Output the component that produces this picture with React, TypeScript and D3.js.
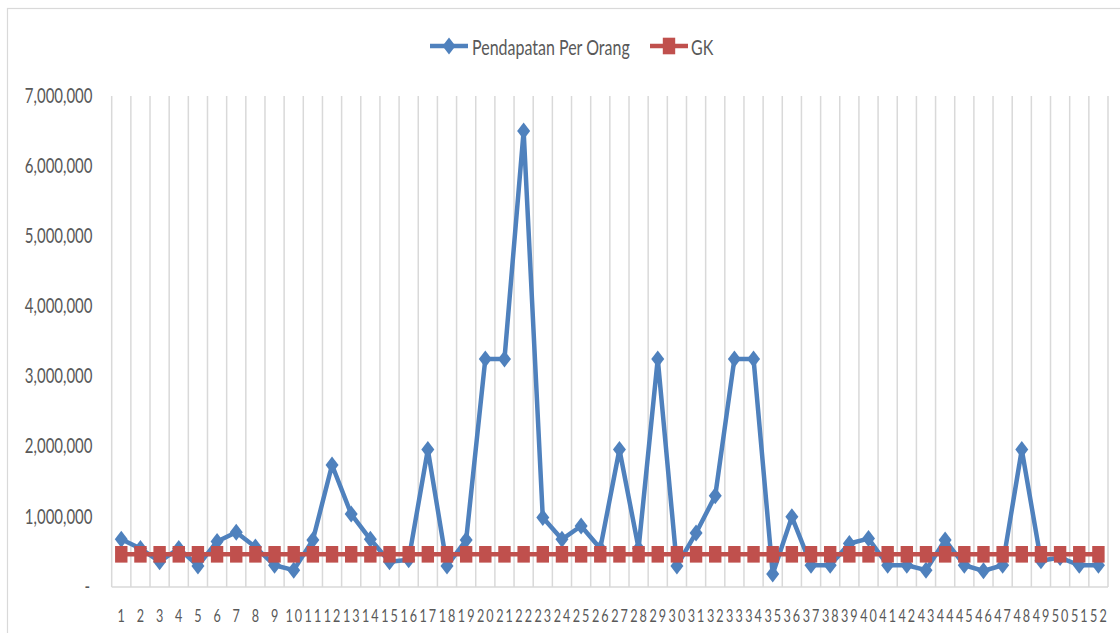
import React from "react";
import * as d3 from "d3";

const categories: string[] = Array.from({ length: 52 }, (_, i) => String(i + 1));
const pendapatan: number[] = [
  680000, 550000, 360000, 550000, 300000, 650000, 780000, 570000, 310000, 240000,
  670000, 1740000, 1040000, 680000, 360000, 390000, 1960000, 300000, 670000, 3250000,
  3250000, 6500000, 990000, 680000, 870000, 550000, 1960000, 550000, 3250000, 300000,
  770000, 1300000, 3250000, 3250000, 185000, 1000000, 310000, 310000, 620000, 690000,
  310000, 310000, 240000, 670000, 310000, 230000, 310000, 1960000, 375000, 420000,
  310000, 310000,
];
const gk: number[] = categories.map(() => 466000);
const yTicks: number[] = [0, 1000000, 2000000, 3000000, 4000000, 5000000, 6000000, 7000000];
const seriesNames: string[] = ["Pendapatan Per Orang", "GK"];

const W = 1120;
const H = 633;
const BLUE = "#4F81BD";
const RED = "#C0504D";
const TXT = "#595959";
const GRID = "#D9D9D9";
const SY = 1.35;

export default function App() {
  const x = d3.scaleBand<string>().domain(categories).range([111.7, 1108]).padding(0);
  const y = d3.scaleLinear().domain([0, 7000000]).range([587, 96]);
  const cx = (c: string) => (x(c) as number) + x.bandwidth() / 2;
  const line = d3
    .line<number>()
    .x((_, i) => cx(categories[i]))
    .y((v) => y(v));
  const fmt = d3.format(",");
  const boundaries = [...categories.map((c) => x(c) as number), 1108];

  const diamond = (px: number, py: number, w = 13, h = 17) =>
    `M${px},${py - h / 2}L${px + w / 2},${py}L${px},${py + h / 2}L${px - w / 2},${py}Z`;

  return (
    <svg
      width={W}
      height={H}
      style={{ position: "absolute", left: 0, top: 0, background: "#fff" }}
      fontFamily="Lato, 'Open Sans', sans-serif"
    >
      <rect x={0} y={0} width={W} height={H} fill="#fff" />
      <rect x={7.5} y={8.5} width={1200} height={700} fill="none" stroke={GRID} strokeWidth={1.2} />

      {/* vertical gridlines */}
      {boundaries.map((b, i) => (
        <line key={"g" + i} x1={b} x2={b} y1={y(7000000)} y2={y(0)} stroke={GRID} strokeWidth={1.5} />
      ))}
      <line x1={111.7} x2={1108} y1={y(0)} y2={y(0)} stroke={GRID} strokeWidth={1.5} />

      {/* y labels */}
      {yTicks.map((t) => (
        <text
          key={"y" + t}
          transform={`translate(${t === 0 ? 90 : 92.5},${y(t) + 6.7}) scale(1,${SY})`}
          textAnchor="end"
          fontSize={15}
          fill={TXT}
        >
          {t === 0 ? "-" : fmt(t)}
        </text>
      ))}

      {/* x labels */}
      {categories.map((c) => (
        <text
          key={"x" + c}
          transform={`translate(${cx(c) + 1},621.5) scale(1,${SY})`}
          textAnchor="middle"
          fontSize={12.6}
          letterSpacing={2}
          fill={TXT}
        >
          {c}
        </text>
      ))}

      {/* Pendapatan series */}
      <path d={line(pendapatan) || ""} fill="none" stroke={BLUE} strokeWidth={4.5} strokeLinejoin="round" />
      {pendapatan.map((v, i) => (
        <path key={"d" + i} d={diamond(cx(categories[i]), y(v))} fill={BLUE} />
      ))}

      {/* GK series */}
      <path d={line(gk) || ""} fill="none" stroke={RED} strokeWidth={4.5} />
      {gk.map((v, i) => (
        <rect key={"s" + i} x={cx(categories[i]) - 6.2} y={y(v) - 8.3} width={12.4} height={16.6} fill={RED} />
      ))}

      {/* legend */}
      <g>
        <line x1={430} x2={468} y1={46} y2={46} stroke={BLUE} strokeWidth={4.5} />
        <path d={diamond(449, 46)} fill={BLUE} />
        <text transform={`translate(472,55) scale(1,${SY})`} fontSize={16} fill={TXT}>
          {seriesNames[0]}
        </text>
        <line x1={650} x2={688} y1={46} y2={46} stroke={RED} strokeWidth={4.5} />
        <rect x={662.8} y={37.7} width={12.4} height={16.6} fill={RED} />
        <text transform={`translate(691,55) scale(1,${SY})`} fontSize={16} fill={TXT}>
          {seriesNames[1]}
        </text>
      </g>
    </svg>
  );
}
